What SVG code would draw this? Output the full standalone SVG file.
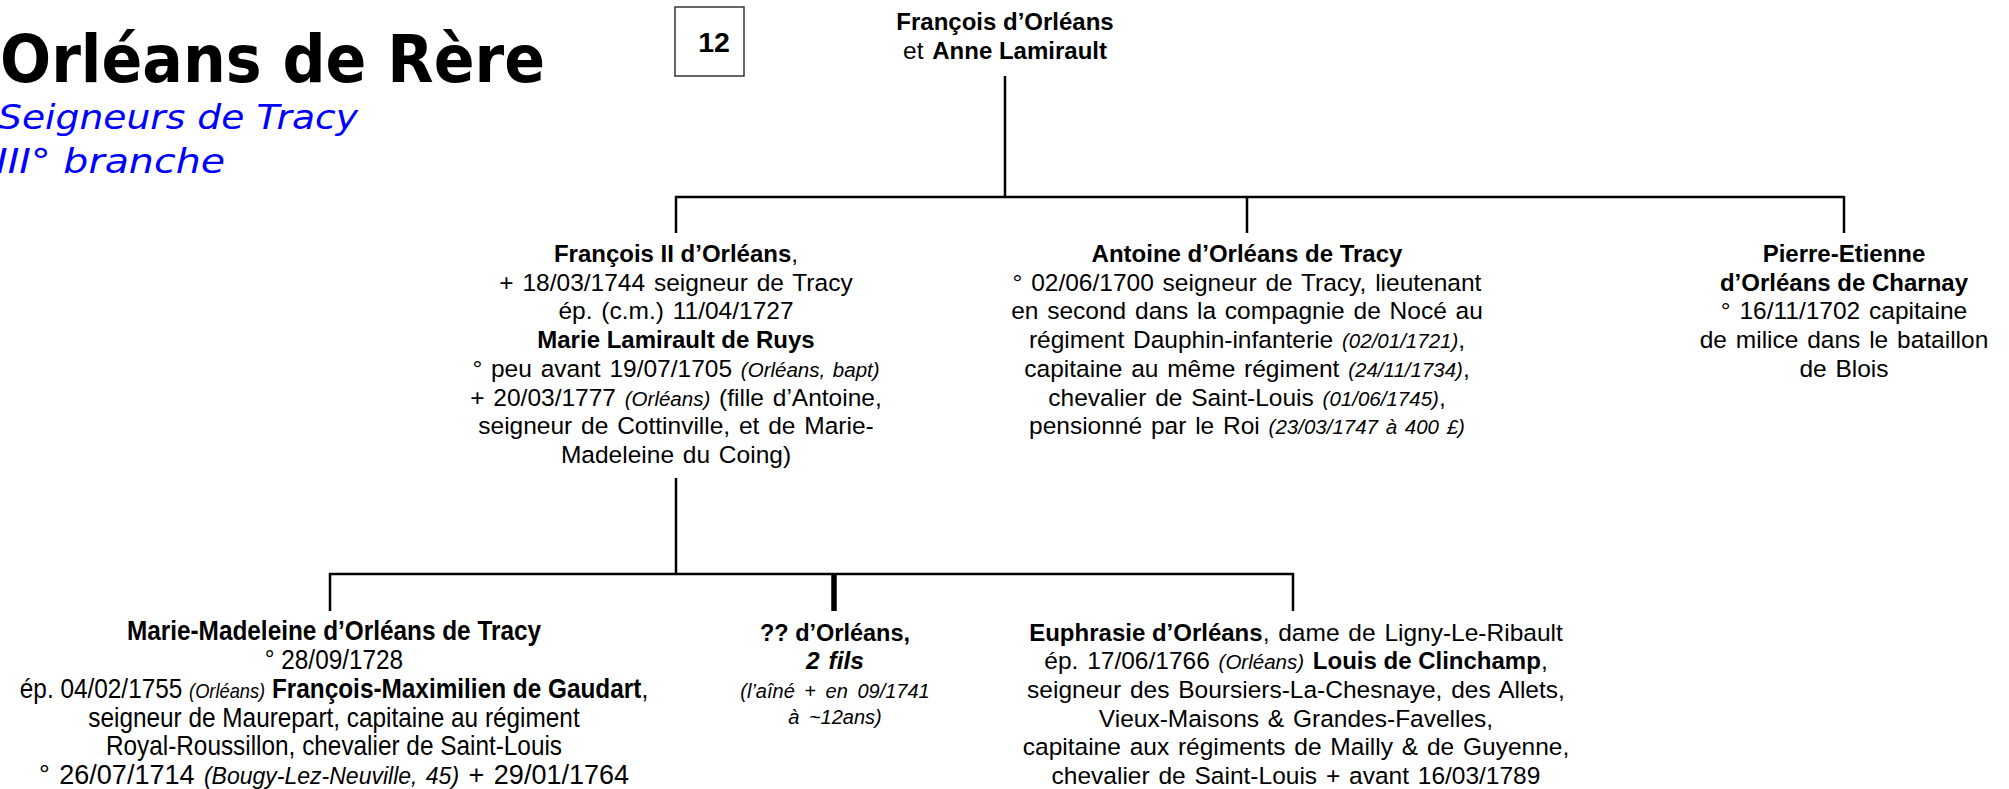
<svg xmlns="http://www.w3.org/2000/svg" width="2009" height="789" viewBox="0 0 2009 789">
<style>
.t{font-family:"Liberation Sans",Arial,sans-serif;font-size:24.5px;fill:#000;text-anchor:middle;word-spacing:2px}
.b{font-weight:bold;font-size:24px;word-spacing:0}
.i{font-style:italic;font-size:20.5px}
.bi{font-weight:bold;font-style:italic}
.n{font-family:"Liberation Sans",Arial,sans-serif;font-size:28px;fill:#000;text-anchor:middle}
.n .i{font-size:21px}
.n .b{font-size:28px}
.ttl{font-family:"DejaVu Sans",Verdana,sans-serif;font-weight:bold;font-size:66px;fill:#000}
.sub{font-family:"DejaVu Sans",Verdana,sans-serif;font-style:italic;font-size:33px;fill:#0000FF}
.ln{stroke:#000;stroke-width:2.5;fill:none}
.thick{stroke:#000;stroke-width:5.5;fill:none}
</style>
<rect width="2009" height="789" fill="#fff"/>
<g id="title">
<text class="ttl" x="0" y="82" textLength="545" lengthAdjust="spacingAndGlyphs">Orléans de Rère</text>
<text class="sub" x="-2" y="129" textLength="360" lengthAdjust="spacingAndGlyphs">Seigneurs de Tracy</text>
<text class="sub" x="-4" y="173" textLength="229" lengthAdjust="spacingAndGlyphs">III° branche</text>
</g>
<g id="pagebox">
<rect x="675" y="7" width="69" height="69" fill="none" stroke="#333" stroke-width="1.5"/>
<text class="t b" x="714" y="52" style="font-size:28.5px">12</text>
</g>
<g id="connectors">
<line class="ln" x1="1005" y1="76" x2="1005" y2="197"/>
<line class="ln" x1="675" y1="197" x2="1844" y2="197"/>
<line class="ln" x1="676" y1="196" x2="676" y2="233"/>
<line class="ln" x1="1247" y1="196" x2="1247" y2="233"/>
<line class="ln" x1="1844" y1="196" x2="1844" y2="233"/>
<line class="ln" x1="676" y1="478" x2="676" y2="574"/>
<line class="ln" x1="329" y1="574" x2="1294" y2="574"/>
<line class="ln" x1="330" y1="573" x2="330" y2="611"/>
<line class="thick" x1="834" y1="573" x2="834" y2="611"/>
<line class="ln" x1="1293" y1="573" x2="1293" y2="611"/>
</g>
<g id="parents">
<text class="t b" x="1005" y="30">François d’Orléans</text>
<text class="t" x="1005" y="59">et <tspan class="b">Anne Lamirault</tspan></text>
</g>
<g id="francois2">
<text class="t" x="676" y="262"><tspan class="b">François II d’Orléans</tspan>,</text>
<text class="t" x="676" y="290.7">+ 18/03/1744 seigneur de Tracy</text>
<text class="t" x="676" y="319.4">ép. (c.m.) 11/04/1727</text>
<text class="t b" x="676" y="348.1">Marie Lamirault de Ruys</text>
<text class="t" x="676" y="376.8">° peu avant 19/07/1705 <tspan class="i">(Orléans, bapt)</tspan></text>
<text class="t" x="676" y="405.5">+ 20/03/1777 <tspan class="i">(Orléans)</tspan> (fille d’Antoine,</text>
<text class="t" x="676" y="434.2">seigneur de Cottinville, et de Marie-</text>
<text class="t" x="676" y="462.9">Madeleine du Coing)</text>
</g>
<g id="antoine">
<text class="t b" x="1247" y="262">Antoine d’Orléans de Tracy</text>
<text class="t" x="1247" y="290.7">° 02/06/1700 seigneur de Tracy, lieutenant</text>
<text class="t" x="1247" y="319.4">en second dans la compagnie de Nocé au</text>
<text class="t" x="1247" y="348.1">régiment Dauphin-infanterie <tspan class="i">(02/01/1721)</tspan>,</text>
<text class="t" x="1247" y="376.8">capitaine au même régiment <tspan class="i">(24/11/1734)</tspan>,</text>
<text class="t" x="1247" y="405.5">chevalier de Saint-Louis <tspan class="i">(01/06/1745)</tspan>,</text>
<text class="t" x="1247" y="434.2">pensionné par le Roi <tspan class="i">(23/03/1747 à 400 £)</tspan></text>
</g>
<g id="pierre-etienne">
<text class="t b" x="1844" y="262">Pierre-Etienne</text>
<text class="t b" x="1844" y="290.7">d’Orléans de Charnay</text>
<text class="t" x="1844" y="319.4">° 16/11/1702 capitaine</text>
<text class="t" x="1844" y="348.1">de milice dans le bataillon</text>
<text class="t" x="1844" y="376.8">de Blois</text>
</g>
<g id="marie-madeleine">
<g transform="matrix(0.87 0 0 1 43.4 0)">
<text class="n b" x="334" y="640.5">Marie-Madeleine d’Orléans de Tracy</text>
<text class="n" x="334" y="669.2">° 28/09/1728</text>
<text class="n" x="334" y="697.9">ép. 04/02/1755 <tspan class="i">(Orléans)</tspan> <tspan class="b">François-Maximilien de Gaudart</tspan>,</text>
<text class="n" x="334" y="726.6">seigneur de Maurepart, capitaine au régiment</text>
<text class="n" x="334" y="755.3">Royal-Roussillon, chevalier de Saint-Louis</text>
</g>
<text class="n" x="334" y="784" style="font-size:27px;word-spacing:2px">° 26/07/1714 <tspan style="font-style:italic;font-size:23px">(Bougy-Lez-Neuville, 45)</tspan> + 29/01/1764</text>
</g>
<g id="fils">
<text class="t b" x="835" y="640.5" style="font-size:23.5px">?? d’Orléans,</text>
<text class="t bi" x="835" y="669.2">2 fils</text>
<text class="t" x="835" y="697.9" style="font-style:italic;font-size:20px;word-spacing:4px">(l’aîné + en 09/1741</text>
<text class="t" x="835" y="724" style="font-style:italic;font-size:20px;word-spacing:4px">à ~12ans)</text>
</g>
<g id="euphrasie">
<text class="t" x="1296" y="640.5"><tspan class="b">Euphrasie d’Orléans</tspan>, dame de Ligny-Le-Ribault</text>
<text class="t" x="1296" y="669.2">ép. 17/06/1766 <tspan class="i">(Orléans)</tspan> <tspan class="b">Louis de Clinchamp</tspan>,</text>
<text class="t" x="1296" y="697.9">seigneur des Boursiers-La-Chesnaye, des Allets,</text>
<text class="t" x="1296" y="726.6">Vieux-Maisons &amp; Grandes-Favelles,</text>
<text class="t" x="1296" y="755.3">capitaine aux régiments de Mailly &amp; de Guyenne,</text>
<text class="t" x="1296" y="784">chevalier de Saint-Louis + avant 16/03/1789</text>
</g>
</svg>
